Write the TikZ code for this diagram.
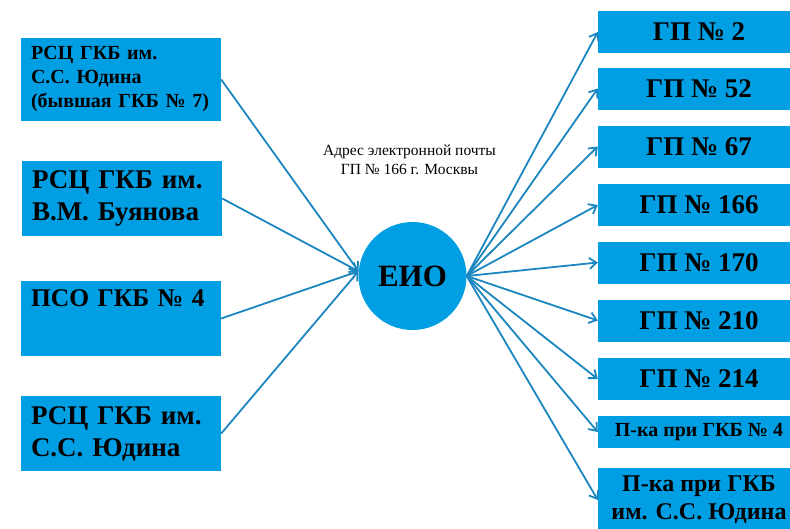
\documentclass[tikz,border=0pt]{standalone}
\usepackage{fontspec}
\setmainfont{Liberation Serif}[BoldFont={Liberation Serif Bold}, ItalicFont={Liberation Serif Italic}]
\usetikzlibrary{arrows.meta}
\definecolor{boxblue}{HTML}{009FE3}
\definecolor{linkblue}{HTML}{1B86BF}
\tikzset{
    srcbox/.style={fill=boxblue, minimum width=200pt, minimum height=75pt, text width=180pt,
        inner xsep=10pt, align=left, font=\bfseries\fontsize{27}{32}\selectfont},
    gpbox/.style={fill=boxblue, minimum width=202pt, minimum height=42pt, inner sep=0pt,
        align=center, font=\bfseries\fontsize{27}{30}\selectfont},
    link/.style={linkblue, line width=1.8pt, -{Straight Barb[length=7pt,width=11pt]}}
}
\begin{document}
\begin{tikzpicture}[x=1pt, y=-1pt]
    \clip (0,0) rectangle (790,528);

    % senders
    \node[srcbox, minimum height=83pt, font=\bfseries\fontsize{20}{24}\selectfont] (rsc7) at (121,79.5)
        {РСЦ ГКБ им.\\ С.С. Юдина\\ (бывшая ГКБ № 7)};
    \node[srcbox] (buyanov) at (122,198.5) {РСЦ ГКБ им.\\ В.М. Буянова};
    \node[srcbox, font=\bfseries\fontsize{25.5}{32}\selectfont] (pso4) at (121,318.5) {ПСО ГКБ №~4\\ \strut};
    \node[srcbox] (yudin) at (121,433.5) {РСЦ ГКБ им.\\ С.С. Юдина};

    % hub
    \node[circle, fill=boxblue, minimum size=108pt, font=\bfseries\fontsize{31}{34}\selectfont] (eio) at (412.5,276) {ЕИО};
    \node[align=center, font=\fontsize{15.5}{19}\selectfont] (mail) at (409.5,160)
        {Адрес электронной почты\\ ГП № 166 г. Москвы};

    \foreach \src in {rsc7, buyanov, pso4, yudin}
        \draw[link] (\src.east) -- (eio.175);

    % receivers
    \foreach \name/\ypos/\txt in {gp2/32/ГП № 2, gp52/88.5/ГП № 52, gp67/146.5/ГП № 67,
        gp166/205/ГП № 166, gp170/262.5/ГП № 170, gp210/320.5/ГП № 210, gp214/379/ГП № 214}
        \node[gpbox] (\name) at (699,\ypos) {\txt};
    \node[gpbox, minimum height=32pt, font=\bfseries\fontsize{20}{22}\selectfont] (pka4) at (699,432) {П-ка при ГКБ № 4};
    \node[gpbox, minimum height=64pt, font=\bfseries\fontsize{24}{28}\selectfont] (pkayudin) at (699,500)
        {П-ка при ГКБ\\ им. С.С. Юдина};

    \foreach \dst in {gp2, gp52, gp67, gp166, gp170, gp210, gp214, pka4, pkayudin}
        \draw[link] (eio.east) -- (\dst.west);
\end{tikzpicture}
\end{document}
